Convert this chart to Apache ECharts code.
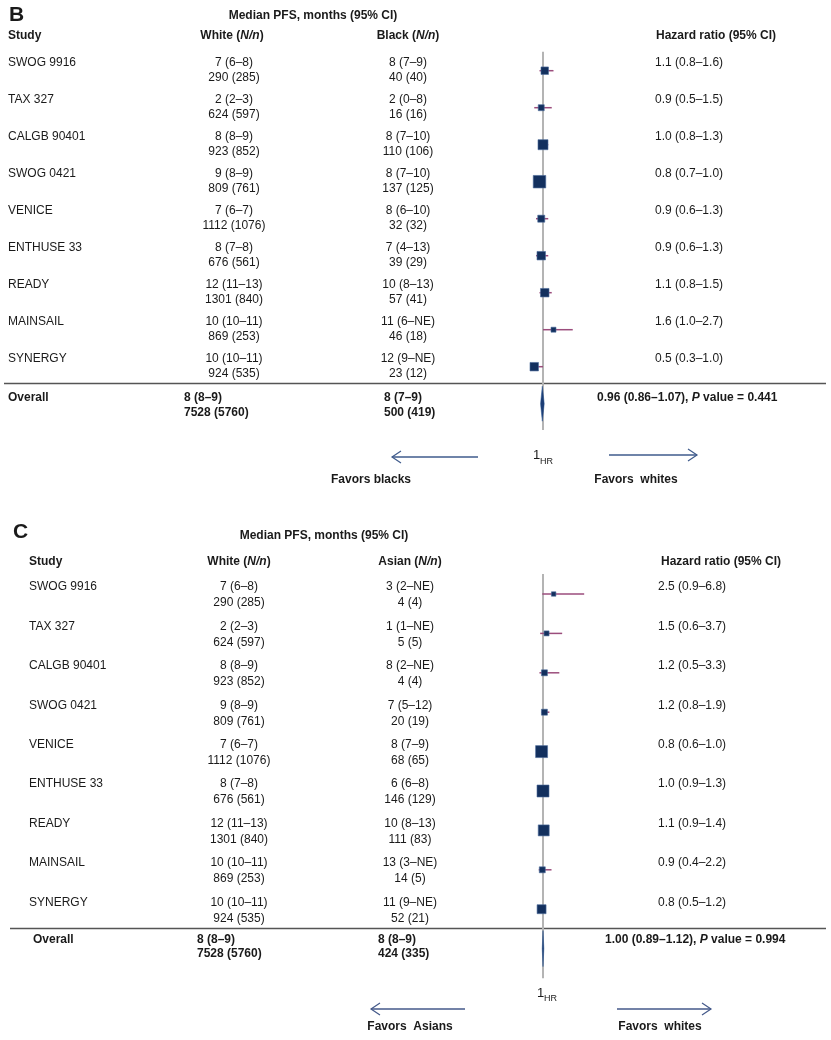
<!DOCTYPE html>
<html><head><meta charset="utf-8">
<script src="https://cdn.jsdelivr.net/npm/echarts@6/dist/echarts.min.js"></script>
<style>html,body{margin:0;padding:0;background:#fff}#c{width:831px;height:1040px}</style>
</head><body><div id="c"></div><script>
// ---------- DATA ----------
var studies = ['SWOG 9916','TAX 327','CALGB 90401','SWOG 0421','VENICE','ENTHUSE 33','READY','MAINSAIL','SYNERGY'];
var whiteMedian = ['7 (6–8)','2 (2–3)','8 (8–9)','9 (8–9)','7 (6–7)','8 (7–8)','12 (11–13)','10 (10–11)','10 (10–11)'];
var whiteN = ['290 (285)','624 (597)','923 (852)','809 (761)','1112 (1076)','676 (561)','1301 (840)','869 (253)','924 (535)'];

// Panel B: White vs Black
var blackMedian = ['8 (7–9)','2 (0–8)','8 (7–10)','8 (7–10)','8 (6–10)','7 (4–13)','10 (8–13)','11 (6–NE)','12 (9–NE)'];
var blackN = ['40 (40)','16 (16)','110 (106)','137 (125)','32 (32)','39 (29)','57 (41)','46 (18)','23 (12)'];
var hrB = [1.1,0.9,1.0,0.8,0.9,0.9,1.1,1.6,0.5];
var loB = [0.8,0.5,0.8,0.7,0.6,0.6,0.8,1.0,0.3];
var hiB = [1.6,1.5,1.3,1.0,1.3,1.3,1.5,2.7,1.0];
var weightB = [8.8,5.6,15.7,24.5,7.7,11.3,11.3,3.9,11.3];
var overallB = {white:['8 (8–9)','7528 (5760)'], other:['8 (7–9)','500 (419)'], hr:0.96, lo:0.86, hi:1.07, p:'0.441'};

// Panel C: White vs Asian
var asianMedian = ['3 (2–NE)','1 (1–NE)','8 (2–NE)','7 (5–12)','8 (7–9)','6 (6–8)','10 (8–13)','13 (3–NE)','11 (9–NE)'];
var asianN = ['4 (4)','5 (5)','4 (4)','20 (19)','68 (65)','146 (129)','111 (83)','14 (5)','52 (21)'];
var hrC = [2.5,1.5,1.2,1.2,0.8,1.0,1.1,0.9,0.8];
var loC = [0.9,0.6,0.5,0.8,0.6,0.9,0.9,0.4,0.5];
var hiC = [6.8,3.7,3.3,1.9,1.0,1.3,1.4,2.2,1.2];
var weightC = [3.1,3.9,5.6,5.6,22.4,22.4,18.8,5.6,12.6];
var overallC = {white:['8 (8–9)','7528 (5760)'], other:['8 (8–9)','424 (335)'], hr:1.00, lo:0.89, hi:1.12, p:'0.994'};

// ---------- STYLE ----------
var FONT = "'Liberation Sans', Arial, Helvetica, sans-serif";
var TXT = '#1a1a1a';
var BOX = '#13305e';
var CI = '#9b4d7c';
var REF = '#b4b4b4';
var BOX_K = 2.53;

function fmtHR(v){ return v.toFixed(1); }
function fmt2(v){ return v.toFixed(2); }

function txt(x, y, text, opt){
  opt = opt || {};
  var st = {
    text: text, x: x, y: y, fill: opt.fill || TXT,
    fontSize: opt.size || 12, fontFamily: FONT, fontWeight: opt.bold ? 'bold' : 'normal',
    align: opt.align || 'left', textAlign: opt.align || 'left',
    verticalAlign: 'middle', textVerticalAlign: 'middle'
  };
  if (opt.rich) st.rich = opt.rich;
  return {type: 'text', silent: true, style: st};
}
function rich(bold){
  var w = bold ? 'bold' : 'normal';
  return {
    r: {fontSize: 12, fontFamily: FONT, fontWeight: w, fill: TXT},
    i: {fontSize: 12, fontFamily: FONT, fontWeight: w, fontStyle: 'italic', fill: TXT}
  };
}

function forestRender(hr, lo, hi, weight){
  return function(params, api){
    var i = params.dataIndex;
    var c = api.coord([hr[i], i]);
    var l = api.coord([lo[i], i]);
    var h = api.coord([hi[i], i]);
    var s = BOX_K * Math.sqrt(weight[i]);
    return {type: 'group', children: [
      {type: 'line', shape: {x1: l[0], y1: c[1], x2: h[0], y2: c[1]}, style: {stroke: CI, lineWidth: 1.5}},
      {type: 'rect', shape: {x: c[0]-s/2, y: c[1]-s/2, width: s, height: s}, style: {fill: BOX, stroke: '#4d6c9c', lineWidth: 0.6}}
    ]};
  };
}
function diamondRender(ov, row, half){
  return function(params, api){
    var c = api.coord([ov.hr, row]);
    var l = api.coord([ov.lo, row]);
    var h = api.coord([ov.hi, row]);
    return {type: 'polygon', shape: {points: [[l[0], c[1]], [c[0], c[1]-half], [h[0], c[1]], [c[0], c[1]+half]]},
      style: {fill: '#1c3d74', stroke: '#24508f', lineWidth: 0.5}};
  };
}
function refRender(a, b){
  return function(params, api){
    var p1 = api.coord([1, a]), p2 = api.coord([1, b]);
    return {type: 'line', shape: {x1: p1[0], y1: p1[1], x2: p2[0], y2: p2[1]}, style: {stroke: REF, lineWidth: 2}};
  };
}
function rowTextRender(cols, o1, o2){
  return function(params, api){
    var i = params.dataIndex;
    var y = api.coord([1, i])[1];
    return {type: 'group', children: [
      txt(cols.study, y+o1, studies[i]),
      txt(cols.white, y+o1, whiteMedian[i], {align: 'center'}),
      txt(cols.white, y+o2, whiteN[i], {align: 'center'}),
      txt(cols.other, y+o1, cols.otherMed[i], {align: 'center'}),
      txt(cols.other, y+o2, cols.otherN[i], {align: 'center'}),
      txt(cols.hr, y+o1, fmtHR(cols.hrv[i]) + ' (' + fmtHR(cols.lov[i]) + '–' + fmtHR(cols.hiv[i]) + ')')
    ]};
  };
}
function overallTextRender(ov, cols, row, o1, o2){
  return function(params, api){
    var y = api.coord([1, row])[1];
    var hrTxt = '{r|' + fmt2(ov.hr) + ' (' + fmt2(ov.lo) + '–' + fmt2(ov.hi) + '), }{i|P}{r| value = ' + ov.p + '}';
    return {type: 'group', children: [
      txt(cols.study, y+o1, 'Overall', {bold: true}),
      txt(cols.white, y+o1, ov.white[0], {bold: true}),
      txt(cols.white, y+o2, ov.white[1], {bold: true}),
      txt(cols.other, y+o1, ov.other[0], {bold: true}),
      txt(cols.other, y+o2, ov.other[1], {bold: true}),
      txt(cols.hr, y+o1, hrTxt, {rich: rich(true)})
    ]};
  };
}
var rowIdx = studies.map(function(_, i){ return [1, i]; });

function arrow(x1, x2, y, color){
  var d = x2 < x1 ? 1 : -1;
  return {type: 'group', silent: true, children: [
    {type: 'line', shape: {x1: x1, y1: y, x2: x2, y2: y}, style: {stroke: color, lineWidth: 1.5}},
    {type: 'polyline', shape: {points: [[x2 + d*9, y-6], [x2, y], [x2 + d*9, y+6]]}, style: {stroke: color, lineWidth: 1.2, fill: null}}
  ]};
}
function hdr(x, y, base, align){
  return txt(x, y, '{r|' + base + ' (}{i|N/n}{r|)}', {align: align || 'center', rich: rich(true)});
}

var chart = echarts.init(document.getElementById('c'), null, {renderer: 'canvas'});
var axX = function(g, max){ return {gridIndex: g, type: 'value', min: 0, max: max, show: false}; };
var axY = function(g){ return {gridIndex: g, type: 'value', inverse: true, min: -1, max: 10, show: false}; };

var option = {
  animation: false,
  backgroundColor: '#fff',
  grid: [
    {left: 525.5, width: 70, top: 33.7, height: 407},
    {left: 535.9, width: 56.8, top: 554.6, height: 433.4}
  ],
  xAxis: [axX(0, 4), axX(1, 8)],
  yAxis: [axY(0), axY(1)],
  series: [
    // Panel B
    {type: 'custom', xAxisIndex: 0, yAxisIndex: 0, z: 1, silent: true, clip: false, data: [[1, 0]], renderItem: refRender(-0.51, 9.71)},
    {type: 'custom', xAxisIndex: 0, yAxisIndex: 0, z: 3, silent: true, clip: false, data: rowIdx, renderItem: forestRender(hrB, loB, hiB, weightB)},
    {type: 'custom', xAxisIndex: 0, yAxisIndex: 0, z: 3, silent: true, clip: false, data: [[1, 9]], renderItem: diamondRender(overallB, 9, 17.5)},
    {type: 'custom', xAxisIndex: 0, yAxisIndex: 0, z: 4, silent: true, clip: false, data: rowIdx,
      renderItem: rowTextRender({study: 8, white: 234, other: 408, hr: 655, otherMed: blackMedian, otherN: blackN, hrv: hrB, lov: loB, hiv: hiB}, -8, 7)},
    {type: 'custom', xAxisIndex: 0, yAxisIndex: 0, z: 4, silent: true, clip: false, data: [[1, 9]],
      renderItem: overallTextRender(overallB, {study: 8, white: 184, other: 384, hr: 597}, 9, -6, 9)},
    // Panel C
    {type: 'custom', xAxisIndex: 1, yAxisIndex: 1, z: 1, silent: true, clip: false, data: [[1, 0]], renderItem: refRender(-0.51, 9.75)},
    {type: 'custom', xAxisIndex: 1, yAxisIndex: 1, z: 3, silent: true, clip: false, data: rowIdx, renderItem: forestRender(hrC, loC, hiC, weightC)},
    {type: 'custom', xAxisIndex: 1, yAxisIndex: 1, z: 3, silent: true, clip: false, data: [[1, 9]], renderItem: diamondRender(overallC, 9, 18)},
    {type: 'custom', xAxisIndex: 1, yAxisIndex: 1, z: 4, silent: true, clip: false, data: rowIdx,
      renderItem: rowTextRender({study: 29, white: 239, other: 410, hr: 658, otherMed: asianMedian, otherN: asianN, hrv: hrC, lov: loC, hiv: hiC}, -7, 9)},
    {type: 'custom', xAxisIndex: 1, yAxisIndex: 1, z: 4, silent: true, clip: false, data: [[1, 9]],
      renderItem: overallTextRender(overallC, {study: 33, white: 197, other: 378, hr: 605}, 9, -9, 5)}
  ],
  graphic: [
    // Panel B headers
    txt(9, 15, 'B', {bold: true, size: 21}),
    txt(313, 16, 'Median PFS, months (95% CI)', {bold: true, align: 'center'}),
    txt(8, 36, 'Study', {bold: true}),
    hdr(232, 36, 'White'),
    hdr(408, 36, 'Black'),
    txt(656, 36, 'Hazard ratio (95% CI)', {bold: true}),
    {type: 'line', silent: true, shape: {x1: 4, y1: 383.5, x2: 826, y2: 383.5}, style: {stroke: '#555', lineWidth: 1.3}},
    txt(533, 455, '1', {size: 13}),
    txt(540, 462, 'HR', {size: 9}),
    arrow(478, 392, 457, '#3f5b8c'),
    arrow(609, 697, 455, '#3f5b8c'),
    txt(371, 480, 'Favors blacks', {bold: true, align: 'center'}),
    txt(636, 480, 'Favors  whites', {bold: true, align: 'center'}),
    // Panel C headers
    txt(13, 532, 'C', {bold: true, size: 21}),
    txt(324, 536, 'Median PFS, months (95% CI)', {bold: true, align: 'center'}),
    txt(29, 562, 'Study', {bold: true}),
    hdr(239, 562, 'White'),
    hdr(410, 562, 'Asian'),
    txt(661, 562, 'Hazard ratio (95% CI)', {bold: true}),
    {type: 'line', silent: true, shape: {x1: 10, y1: 928.5, x2: 826, y2: 928.5}, style: {stroke: '#555', lineWidth: 1.3}},
    txt(537, 993, '1', {size: 13}),
    txt(544, 999, 'HR', {size: 9}),
    arrow(465, 371, 1009, '#44598a'),
    arrow(617, 711, 1009, '#44598a'),
    txt(410, 1027, 'Favors  Asians', {bold: true, align: 'center'}),
    txt(660, 1027, 'Favors  whites', {bold: true, align: 'center'})
  ]
};
chart.setOption(option);
</script></body></html>
